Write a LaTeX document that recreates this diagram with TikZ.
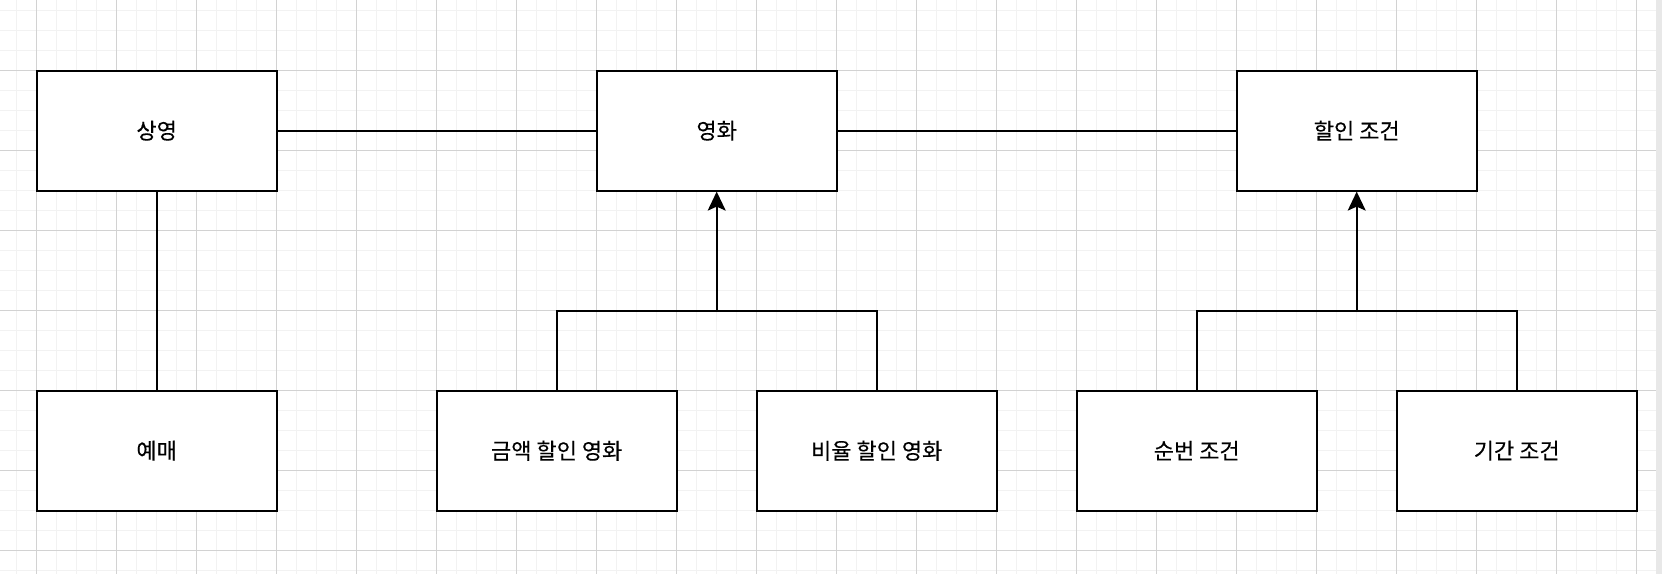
\documentclass[tikz,border=0pt]{standalone}
\usepackage{fontspec}
\setmainfont{Noto Sans CJK KR}
\usetikzlibrary{arrows.meta}

\definecolor{minorgrid}{HTML}{F2F2F2}
\definecolor{majorgrid}{HTML}{D2D2D2}
\definecolor{edgestrip}{HTML}{E8E8E8}

\tikzset{
	entity/.style = {draw, line width = 1.8pt, fill = white, minimum width = 240pt,
		minimum height = 120pt, inner sep = 0pt,
		font = \fontsize{22pt}{26pt}\selectfont\addfontfeature{FakeBold = 0.3}},
	link/.style = {line width = 1.8pt},
	inherit/.style = {link, -{Stealth[length = 19pt, width = 18pt, inset = 4pt]}}
}

\begin{document}
\begin{tikzpicture}[x = 1pt, y = -1pt]

	% Definitions

	\def\wmax{1662}		% width of canvas
	\def\hmax{574}		% height of canvas
	\def\gridw{1656}	% where the grid stops on the right
	\def\top{130.7}		% row of the upper boxes
	\def\low{450.7}		% row of the lower boxes
	\def\join{310.7}	% row where the subclass lines meet

	\useasboundingbox (0, 0) rectangle (\wmax, \hmax);

	% Background grid

	\fill [white] (0, 0) rectangle (\gridw, \hmax);
	\fill [edgestrip] (\gridw, 0) rectangle (\wmax, \hmax);

	\begin{scope}[line width = 1pt]
		\foreach \x in {16.7, 36.7, ..., 1650}
			\draw [minorgrid] (\x, 0) -- (\x, \hmax);
		\foreach \y in {10.7, 30.7, ..., 574}
			\draw [minorgrid] (0, \y) -- (\gridw, \y);
		\foreach \x in {36.7, 116.7, ..., 1650}
			\draw [majorgrid] (\x, 0) -- (\x, \hmax);
		\foreach \y in {70.7, 150.7, ..., 574}
			\draw [majorgrid] (0, \y) -- (\gridw, \y);
	\end{scope}

	% Classes

	\node [entity] (screening) at (156.7, \top) {상영};
	\node [entity] (movie) at (716.7, \top) {영화};
	\node [entity] (condition) at (1356.7, \top) {할인 조건};

	\node [entity] (reservation) at (156.7, \low) {예매};
	\node [entity] (amountmovie) at (556.7, \low) {금액 할인 영화};
	\node [entity] (percentmovie) at (876.7, \low) {비율 할인 영화};
	\node [entity] (sequencecond) at (1196.7, \low) {순번 조건};
	\node [entity] (periodcond) at (1516.7, \low) {기간 조건};

	% Associations

	\draw [link] (screening) -- (movie);
	\draw [link] (movie) -- (condition);
	\draw [link] (screening) -- (reservation);

	% Generalisations

	\coordinate (moviejoin) at (716.7, \join);
	\coordinate (condjoin) at (1356.7, \join);

	\draw [link] (amountmovie.north) -- (amountmovie.north |- moviejoin) -- (percentmovie.north |- moviejoin) -- (percentmovie.north);
	\draw [inherit] (moviejoin) -- (movie.south);

	\draw [link] (sequencecond.north) -- (sequencecond.north |- condjoin) -- (periodcond.north |- condjoin) -- (periodcond.north);
	\draw [inherit] (condjoin) -- (condition.south);

\end{tikzpicture}
\end{document}
